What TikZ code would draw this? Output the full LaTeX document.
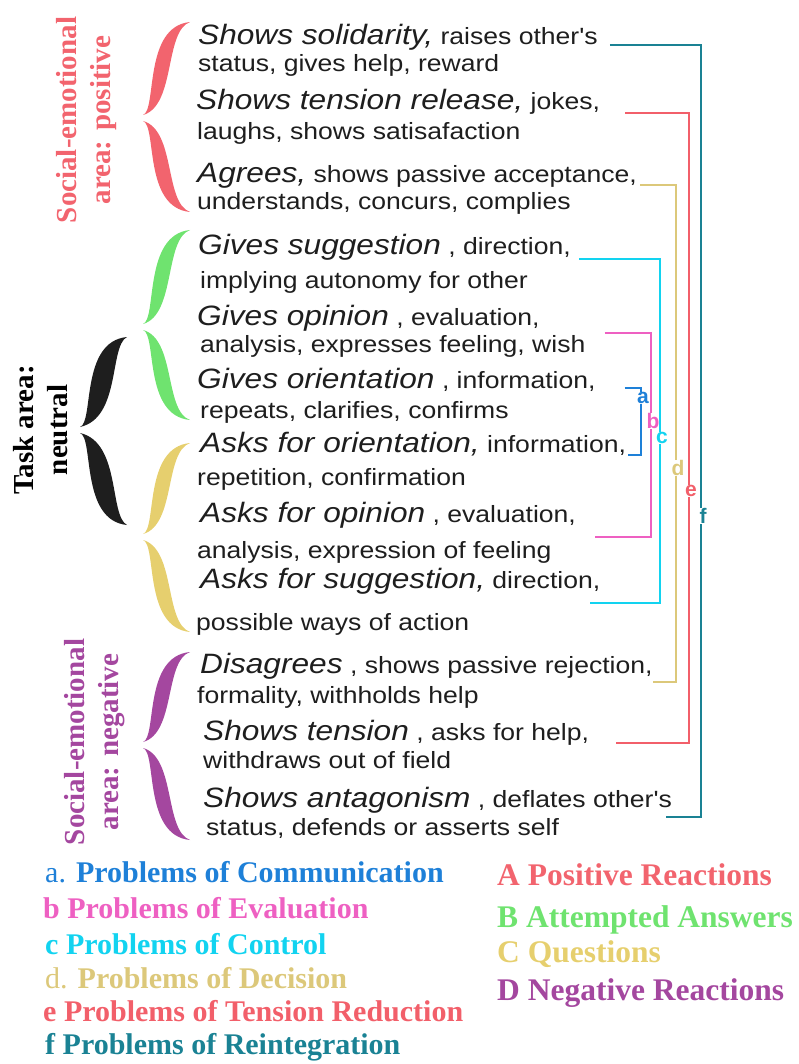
\documentclass[tikz,border=0pt]{standalone}
\usepackage{fontspec}
\setmainfont{Liberation Serif}
\newfontfamily\itemfont[FakeStretch=1.13]{Liberation Sans}
\newfontfamily\tagfont{Liberation Sans}
\usetikzlibrary{calc}
\definecolor{ink}{HTML}{1E1E1E}
\definecolor{posred}{HTML}{F2646E}
\definecolor{attgreen}{HTML}{6FE36F}
\definecolor{quesgold}{HTML}{E6CF6E}
\definecolor{negpurple}{HTML}{A4479F}
\definecolor{ca}{HTML}{1E80D8}
\definecolor{cb}{HTML}{EE60C2}
\definecolor{cc}{HTML}{12D3F0}
\definecolor{cd}{HTML}{DCC87A}
\definecolor{ce}{HTML}{F25F6A}
\definecolor{cf}{HTML}{1A8294}
\newcommand{\act}[1]{{\fontsize{28}{30}\selectfont\itshape #1}}

\begin{document}
\begin{tikzpicture}[x=1pt,y=-1pt,
	head/.style={anchor=base west,inner sep=0pt,text=ink,font=\itemfont\fontsize{23.5}{28}\selectfont},
	side/.style={rotate=90,align=center,font=\bfseries\fontsize{29}{34}\selectfont},
	key/.style={anchor=base west,inner sep=0pt,font=\bfseries\fontsize{30}{34}\selectfont},
	link/.style={draw=c#1,line width=1.6pt},
	tag/.style={fill=white,inner sep=0.3pt,xshift=2pt,text=c#1,font=\tagfont\bfseries\fontsize{21}{21}\selectfont},
	fatbrace/.pic={\fill (0,0) .. controls (0.3,0.05) and (0,0.95) .. (1,1)
		.. controls (#1,0.9) and ({#1+0.25},0.1) .. (0,0) -- cycle;}]
	\useasboundingbox (0,0) rectangle (798,1064);
	% braces
	\foreach \col/\ya/\ym/\yb in {posred/22/118/212,attgreen/230/327/420,quesgold/443/537/632,negpurple/652/745/840}
	{
		\pgfmathsetmacro{\hu}{\ym-3-\ya}
		\pgfmathsetmacro{\hd}{\yb-\ym-3}
		\pic[\col,xscale=47,yscale=-\hu] at (143,\ym-3) {fatbrace=0.45};
		\pic[\col,xscale=47,yscale=\hd] at (143,\ym+3) {fatbrace=0.45};
	}
	\pic[ink,xscale=47,yscale=-90] at (80,427) {fatbrace=0.62};
	\pic[ink,xscale=47,yscale=92] at (80,433) {fatbrace=0.62};
	\node[side,text=posred] (pos) at (87,120) {Social-emotional\\area: positive};
	\node[side,text=black] (task) at (41,430) {Task area:\\neutral};
	\node[side,text=negpurple] (neg) at (95,742) {Social-emotional\\area: negative};
	% categories
	\node[head] (s1) at (198,45) {\act{Shows solidarity,} raises other's};
	\node[head] (t1) at (198,72) {status, gives help, reward};
	\node[head] (s2) at (196,110) {\act{Shows tension release,} jokes,};
	\node[head] (t2) at (197,140) {laughs, shows satisafaction};
	\node[head] (s3) at (197,183) {\act{Agrees,} shows passive acceptance,};
	\node[head] (t3) at (197,210) {understands, concurs, complies};
	\node[head] (s4) at (198,255) {\act{Gives suggestion} , direction,};
	\node[head] (t4) at (200,288) {implying autonomy for other};
	\node[head] (s5) at (197,325) {\act{Gives opinion} , evaluation,};
	\node[head] (t5) at (200,352) {analysis, expresses feeling, wish};
	\node[head] (s6) at (197,388) {\act{Gives orientation} , information,};
	\node[head] (t6) at (200,418) {repeats, clarifies, confirms};
	\node[head] (s7) at (200,452) {\act{Asks for orientation,} information,};
	\node[head] (t7) at (197,485) {repetition, confirmation};
	\node[head] (s8) at (200,522) {\act{Asks for opinion} , evaluation,};
	\node[head] (t8) at (197,558) {analysis, expression of feeling};
	\node[head] (s9) at (200,588) {\act{Asks for suggestion,} direction,};
	\node[head] (t9) at (196,630) {possible ways of action};
	\node[head] (s10) at (200,673) {\act{Disagrees} , shows passive rejection,};
	\node[head] (t10) at (197,703) {formality, withholds help};
	\node[head] (s11) at (203,740) {\act{Shows tension} , asks for help,};
	\node[head] (t11) at (203,768) {withdraws out of field};
	\node[head] (s12) at (203,807) {\act{Shows antagonism} , deflates other's};
	\node[head] (t12) at (206,835) {status, defends or asserts self};
	% problem brackets
	\foreach \k/\i/\j/\xv/\ga/\da/\gb/\db/\p in
	{a/6/7/641/29/0/2/3/0.15,b/5/8/651/65/8/19/15/0.43,c/4/9/660/8/4/-10/15/0.52,
		d/3/10/676/3/2/0/9/0.57,e/2/11/689/25/3/27/3/0.6,f/1/12/701/12/0/-6/10/0.61}
	{
		\coordinate (v\k) at (\xv,0);
		\coordinate (u\k) at ($(s\i.base east)+(\ga,\da)$);
		\coordinate (w\k) at ($(s\j.base east)+(\gb,\db)$);
		\draw[link=\k] (u\k) -- (u\k -| v\k) -- node[tag=\k,pos=\p] {\k} (w\k -| v\k) -- (w\k);
	}
	% legend
	\node[key,text=ca] (ka) at (45,882) {{\mdseries a.} Problems of Communication};
	\node[key,text=cb] (kb) at (43,918) {b Problems of Evaluation};
	\node[key,text=cc] (kc) at (45,954) {c Problems of Control};
	\node[key,text=cd] (kd) at (45,988) {{\mdseries d.} Problems of Decision};
	\node[key,text=ce] (ke) at (43,1021) {e Problems of Tension Reduction};
	\node[key,text=cf] (kf) at (45,1054) {f Problems of Reintegration};
	\node[key,text=posred,font=\bfseries\fontsize{31.5}{34}\selectfont] (kA) at (497,885) {A Positive Reactions};
	\node[key,text=attgreen,font=\bfseries\fontsize{31.5}{34}\selectfont] (kB) at (497,927) {B Attempted Answers};
	\node[key,text=quesgold,font=\bfseries\fontsize{31.5}{34}\selectfont] (kC) at (497,962) {C Questions};
	\node[key,text=negpurple,font=\bfseries\fontsize{31.5}{34}\selectfont] (kD) at (497,1000) {D Negative Reactions};
\end{tikzpicture}
\end{document}
